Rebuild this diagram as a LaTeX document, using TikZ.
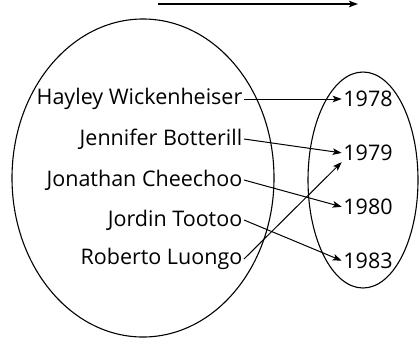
\documentclass[tikz,border=0pt]{standalone}
\usepackage{fontspec}
\setmainfont{Open Sans}
\usetikzlibrary{arrows.meta,positioning}
\tikzset{
  player/.style={inner sep=1.5pt, anchor=east, font=\fontsize{21.5pt}{24pt}\selectfont},
  yr/.style    ={inner sep=1.5pt, text height=15pt, text depth=0pt, font=\fontsize{21.5pt}{24pt}\selectfont},
  set/.style   ={draw=black, line width=1.1pt},
  ar/.style    ={-{Stealth[length=9pt, width=6.5pt, inset=2pt]}, line width=1pt, draw=black},
}
\begin{document}
\begin{tikzpicture}[x=1pt, y=-1pt]
\useasboundingbox (0,0) rectangle (419,338);
% the two sets
\draw[set] (143,178) ellipse [x radius=131, y radius=159];
\draw[set] (363,180) ellipse [x radius=55, y radius=108];

% players
\node[player] (hw) at (244,99) {Hayley Wickenheiser};
\node[player] (jb) at (244,139) {Jennifer Botterill};
\node[player] (jc) at (244,180) {Jonathan Cheechoo};
\node[player] (jt) at (244,220) {Jordin Tootoo};
\node[player] (rl) at (244,259) {Roberto Luongo};

% birth years
\node[yr] (y78) at (368,99) {1978};
\node[yr, below=35.5pt of y78] (y79) {1979};
\node[yr, below=35.5pt of y79] (y80) {1980};
\node[yr, below=35.5pt of y80] (y83) {1983};

\coordinate (ts) at (158,4);
\coordinate (te) at (358,4);
\draw[ar, line width=1.5pt] (ts) -- (te);

\draw[ar] (hw.east) -- (y78.west);
\draw[ar] (jb.east) -- (y79.west);
\draw[ar] (jc.east) -- (y80.west);
\draw[ar] (jt.east) -- (y83.west);
\draw[ar] (rl.east) -- (y79.south west);
\end{tikzpicture}
\end{document}
